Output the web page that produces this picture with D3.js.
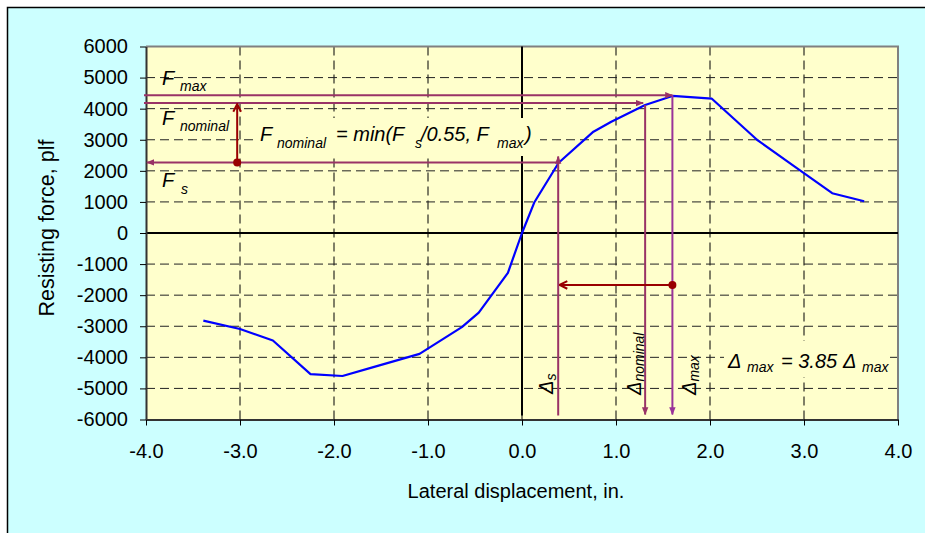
<!DOCTYPE html>
<html><head><meta charset="utf-8">
<script src="https://cdn.jsdelivr.net/npm/d3@7"></script>
<style>
html,body{margin:0;padding:0;background:#fff;}
svg text{font-family:"Liberation Sans",Arial,sans-serif;}
</style></head>
<body>
<script>
// ---- data ----
const dispIn = [-3.39, -3.00, -2.65, -2.25, -1.91, -1.60, -1.09, -0.64, -0.46, -0.15, 0.00, 0.13, 0.39, 0.76, 0.95, 1.31, 1.60, 2.02, 2.50, 2.89, 3.30, 3.64];
const forcePlf = [-2820, -3090, -3460, -4540, -4600, -4330, -3890, -3030, -2560, -1280, 0, 980, 2260, 3260, 3580, 4120, 4410, 4320, 3000, 2160, 1280, 1020];
const xTicks = [-4, -3, -2, -1, 0, 1, 2, 3, 4];
const yTicks = [-6000, -5000, -4000, -3000, -2000, -1000, 0, 1000, 2000, 3000, 4000, 5000, 6000];
// annotation values
const Fs = 2270, Fnom = 4180, Fmax = 4430;
const Ds = 0.385, Dnom = 1.31, Dmax = 1.60;
const arrowUpX = -3.03;      // vertical dark red arrow position
const arrowLeftY = -1670;    // horizontal dark red arrow level
const arrowLeftTo = 0.40;

const W = 925, H = 533;
const svg = d3.select("body").append("svg").attr("width", W).attr("height", H);

const L = 146, R = 898, T = 46.5, B = 419.5;
const x = d3.scaleLinear().domain([-4, 4]).range([L, R]);
const y = d3.scaleLinear().domain([-6000, 6000]).range([B, T]);

// chart area background with border (right/bottom run off the picture)
svg.append("rect").attr("x", 7.5).attr("y", 7.5).attr("width", W + 10).attr("height", H + 10)
  .attr("fill", "#CCFFFF").attr("stroke", "#000").attr("stroke-width", 1.5);

// plot area
svg.append("rect").attr("x", L).attr("y", T).attr("width", R - L).attr("height", B - T)
  .attr("fill", "#FFFFCC");

// defs: markers
const defs = svg.append("defs");
function marker(id, color, size) {
  defs.append("marker").attr("id", id).attr("viewBox", "0 0 10 10")
    .attr("refX", 9).attr("refY", 5).attr("markerWidth", size).attr("markerHeight", size)
    .attr("markerUnits", "userSpaceOnUse").attr("orient", "auto")
    .append("path").attr("d", "M0,1 L10,5 L0,9 Z").attr("fill", color);
}
marker("mp", "#993366", 8);
marker("mv", "#993399", 8);
defs.append("marker").attr("id", "mrOpen").attr("viewBox", "0 0 10 10")
  .attr("refX", 9).attr("refY", 5).attr("markerWidth", 11).attr("markerHeight", 11)
  .attr("markerUnits", "userSpaceOnUse").attr("orient", "auto")
  .append("path").attr("d", "M2,1.5 L9,5 L2,8.5").attr("fill", "none").attr("stroke", "#990000").attr("stroke-width", 1.8);

// gridlines
const grid = svg.append("g");
grid.selectAll("line.v").data(xTicks.filter(d => d > -4 && d < 4)).join("line")
  .attr("x1", d => x(d)).attr("x2", d => x(d)).attr("y1", T).attr("y2", B)
  .attr("stroke", "#000").attr("stroke-width", 1).attr("stroke-dasharray", "9,5");
grid.selectAll("line.h").data(yTicks.filter(d => d > -6000 && d < 6000)).join("line")
  .attr("x1", L).attr("x2", R).attr("y1", d => y(d)).attr("y2", d => y(d))
  .attr("stroke", "#222").attr("stroke-width", 1).attr("stroke-dasharray", "9,5");

// plot border top/right in gray
svg.append("path").attr("d", `M${L},${T} H${R} V${B}`).attr("fill", "none")
  .attr("stroke", "#808080").attr("stroke-width", 2);

// zero lines
svg.append("line").attr("x1", L).attr("x2", R).attr("y1", y(0)).attr("y2", y(0))
  .attr("stroke", "#000").attr("stroke-width", 2);
svg.append("line").attr("x1", x(0)).attr("x2", x(0)).attr("y1", T).attr("y2", B - 4)
  .attr("stroke", "#000").attr("stroke-width", 2);

// axes
const axFont = 20;
const xAxis = svg.append("g").attr("transform", `translate(0,${B})`)
  .call(d3.axisBottom(x).tickValues(xTicks).tickFormat(d => d.toFixed(1)).tickSize(6).tickSizeOuter(0).tickPadding(18));
const yAxis = svg.append("g").attr("transform", `translate(${L},0)`)
  .call(d3.axisLeft(y).tickValues(yTicks).tickFormat(d => String(d)).tickSize(6).tickSizeOuter(0).tickPadding(12));
[xAxis, yAxis].forEach(g => {
  g.selectAll("text").attr("font-size", axFont).attr("fill", "#000")
    .attr("font-family", "'Liberation Sans',Arial,sans-serif");
  g.select(".domain").attr("stroke", "#333").attr("stroke-width", 2);
  g.selectAll(".tick line").attr("stroke", "#000");
});
xAxis.selectAll("text").attr("dy", "0.71em");

// axis titles
svg.append("text").attr("x", (L + R) / 2 - 6).attr("y", 498).attr("text-anchor", "middle")
  .attr("font-size", 20).text("Lateral displacement, in.");
svg.append("text").attr("transform", `translate(54,${(T + B) / 2 - 5}) rotate(-90)`)
  .attr("text-anchor", "middle").attr("font-size", 21.5).text("Resisting force, plf");

// curve
svg.append("path").datum(dispIn.map((d, i) => [d, forcePlf[i]]))
  .attr("d", d3.line().x(d => x(d[0])).y(d => y(d[1])))
  .attr("fill", "none").attr("stroke", "#0000FF").attr("stroke-width", 2.2).attr("stroke-linejoin", "round");

// annotation lines (pink / purple)
const ann = svg.append("g").attr("fill", "none").attr("stroke-width", 2);
ann.append("line").attr("x1", L - 2).attr("y1", y(Fmax)).attr("x2", x(Dmax)).attr("y2", y(Fmax))
  .attr("stroke", "#993366").attr("marker-end", "url(#mp)");
ann.append("line").attr("x1", L - 2).attr("y1", y(Fnom)).attr("x2", x(Dnom) - 2).attr("y2", y(Fnom))
  .attr("stroke", "#993366").attr("marker-end", "url(#mp)");
ann.append("line").attr("x1", x(Ds)).attr("y1", y(Fs)).attr("x2", L + 1).attr("y2", y(Fs))
  .attr("stroke", "#993366").attr("marker-end", "url(#mp)");
ann.append("line").attr("x1", x(Ds)).attr("y1", B - 4).attr("x2", x(Ds)).attr("y2", y(Fs) - 6)
  .attr("stroke", "#993366").attr("marker-end", "url(#mp)");
ann.append("line").attr("x1", x(Dnom)).attr("y1", y(Fnom) + 2).attr("x2", x(Dnom)).attr("y2", B - 5)
  .attr("stroke", "#993366").attr("marker-end", "url(#mp)");
ann.append("line").attr("x1", x(Dmax)).attr("y1", y(Fmax)).attr("x2", x(Dmax)).attr("y2", B - 5)
  .attr("stroke", "#993399").attr("marker-end", "url(#mv)");

// dark red arrows
svg.append("line").attr("x1", x(arrowUpX)).attr("y1", y(Fs)).attr("x2", x(arrowUpX)).attr("y2", y(Fnom) + 1)
  .attr("stroke", "#990000").attr("stroke-width", 2).attr("marker-end", "url(#mrOpen)");
svg.append("circle").attr("cx", x(arrowUpX)).attr("cy", y(Fs)).attr("r", 4).attr("fill", "#990000");
svg.append("line").attr("x1", x(Dmax)).attr("y1", y(arrowLeftY)).attr("x2", x(arrowLeftTo)).attr("y2", y(arrowLeftY))
  .attr("stroke", "#990000").attr("stroke-width", 2).attr("marker-end", "url(#mrOpen)");
svg.append("circle").attr("cx", x(Dmax)).attr("cy", y(arrowLeftY)).attr("r", 4).attr("fill", "#990000");

// text annotations
const big = 20, small = 14;
function itxt(px, py, s, size) {
  return svg.append("text").attr("x", px).attr("y", py).attr("font-size", size)
    .attr("font-style", "italic").attr("fill", "#000").text(s);
}
itxt(162, 85, "F", big); itxt(180, 91, "max", small);
itxt(162, 125, "F", big); itxt(180, 131, "nominal", small);
itxt(162, 187, "F", big); itxt(181, 194, "s", small);

// formula box (opaque, hides gridlines)
svg.append("rect").attr("x", 256).attr("y", 118).attr("width", 284).attr("height", 38).attr("fill", "#FFFFCC");
itxt(260, 141, "F", big); itxt(277, 148, "nominal", small);
itxt(336, 141, "= min(F", big); itxt(415, 148, "s", small);
itxt(421, 141, "/0.55, F", big); itxt(497, 148, "max", small);
itxt(525, 141, ")", big);

// delta equation box
svg.append("rect").attr("x", 724).attr("y", 341).attr("width", 166).attr("height", 36).attr("fill", "#FFFFCC");
itxt(728, 368, "Δ", big); itxt(747, 372, "max", small);
itxt(781, 368, "= 3.85", big);
itxt(843, 368, "Δ", big); itxt(862, 372, "max", small);

function vlabel(bx, by, sub) {
  const t = svg.append("text").attr("transform", `translate(${bx},${by}) rotate(-90)`)
    .attr("font-style", "italic").attr("fill", "#000");
  t.append("tspan").attr("font-size", big).text("Δ");
  t.append("tspan").attr("font-size", small).attr("dy", 3).text(sub);
}
vlabel(553, 394, "s");
vlabel(641, 395, "nominal");
vlabel(696, 395, "max");
</script>
</body></html>
